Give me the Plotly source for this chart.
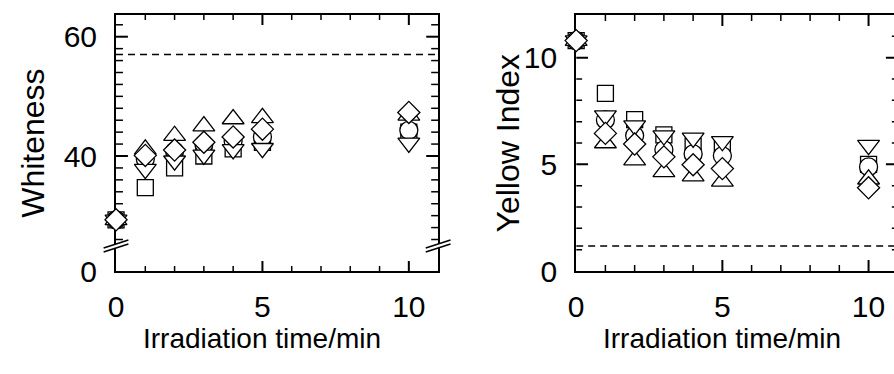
import plotly.graph_objects as go

# ---------------- data ----------------
time_min = [0, 1, 2, 3, 4, 5, 10]

white_square = [29.3, 34.7, 38.0, 40.0, 41.2, 42.3, 44.0]
white_circle = [29.3, 39.5, 40.8, 42.0, 42.5, 43.2, 44.3]
white_triup = [29.3, 41.1, 43.4, 45.0, 46.2, 46.4, 46.8]
white_tridown = [29.3, 37.8, 39.2, 40.2, 41.1, 41.3, 42.2]
white_diamond = [29.3, 40.1, 41.0, 42.3, 43.2, 44.5, 47.3]

yellow_square = [10.8, 8.33, 7.1, 6.38, 5.85, 5.8, 5.0]
yellow_circle = [10.8, 7.08, 6.35, 5.68, 5.49, 5.4, 4.88]
yellow_triup = [10.8, 6.0, 5.2, 4.65, 4.45, 4.2, 4.3]
yellow_tridown = [10.8, 7.28, 6.81, 6.35, 6.24, 6.08, 5.9]
yellow_diamond = [10.8, 6.45, 5.95, 5.35, 4.98, 4.8, 3.9]

white_reference = 57.0
yellow_reference = 1.17

x_ticks = [0, 5, 10]
x_tick_labels = ["0", "5", "10"]
x_major_marks = [5, 10]
x_minor_ticks = [1, 2, 3, 4, 6, 7, 8, 9]
white_tick_vals = [20.72, 40, 60]
white_tick_labels = ["0", "40", "60"]
white_major_marks = [40, 60]
white_minor_ticks = [26, 28, 30, 32, 34, 36, 38, 42, 44, 46, 48, 50, 52, 54, 56, 58, 62]
yellow_tick_vals = [0, 5, 10]
yellow_tick_labels = ["0", "5", "10"]
yellow_major_marks = [5, 10]
yellow_minor_ticks = [1, 2, 3, 4, 6, 7, 8, 9, 11]

# ---------------- layout constants ----------------
W, H = 894, 374
MT, MB = 15, 103
PLOT_H = H - MT - MB
FONT = "Liberation Sans"
X1_RANGE = [0, 11]
Y1_RANGE = [20.72, 63.64]
X2_RANGE = [0, 10.87]
Y2_RANGE = [0, 12]
X1_DOM = [109 / W, 434 / W]
X2_DOM = [573.3 / W, 1.0]
X2_FRAME = 11  # right frame of the yellow panel lies just outside the picture

series = [
    ("square", 16),
    ("circle", 18),
    ("triangle-up", 19),
    ("triangle-down", 19),
    ("diamond", 17),
]
white_vals = [white_square, white_circle, white_triup, white_tridown, white_diamond]
yellow_vals = [yellow_square, yellow_circle, yellow_triup, yellow_tridown, yellow_diamond]

fig = go.Figure()


# ---------------- inside tick marks drawn as line traces in axis units ----------------
def add_ticks(xa, ya, xr, yr, dom, x_right, x_sets, y_sets):
    dom_px = (dom[1] - dom[0]) * W
    ux = (xr[1] - xr[0]) / dom_px     # axis units per pixel, x
    uy = (yr[1] - yr[0]) / PLOT_H     # axis units per pixel, y
    for vals, length, width in x_sets:
        xs, ys = [], []
        for v in vals:
            xs += [v, v, None, v, v, None]
            ys += [yr[0], yr[0] + length * uy, None, yr[1], yr[1] - length * uy, None]
        fig.add_trace(go.Scatter(x=xs, y=ys, mode="lines", xaxis=xa, yaxis=ya, showlegend=False,
                                 hoverinfo="skip", line=dict(color="black", width=width)))
    for vals, length, width in y_sets:
        xs, ys = [], []
        for v in vals:
            xs += [xr[0], xr[0] + length * ux, None, x_right, x_right - length * ux, None]
            ys += [v, v, None, v, v, None]
        fig.add_trace(go.Scatter(x=xs, y=ys, mode="lines", xaxis=xa, yaxis=ya, showlegend=False,
                                 hoverinfo="skip", line=dict(color="black", width=width)))


add_ticks("x", "y", X1_RANGE, Y1_RANGE, X1_DOM, X1_RANGE[1],
          [(x_major_marks, 10, 2), (x_minor_ticks, 5, 1.5)],
          [(white_major_marks, 12, 2), (white_minor_ticks, 7, 1.5)])
add_ticks("x2", "y2", X2_RANGE, Y2_RANGE, X2_DOM, X2_FRAME,
          [(x_major_marks, 11, 2), (x_minor_ticks, 6, 1.5)],
          [(yellow_major_marks, 12, 2), (yellow_minor_ticks, 6, 1.5)])

# dashed reference lines
fig.add_trace(go.Scatter(x=X1_RANGE, y=[white_reference] * 2, mode="lines", xaxis="x", yaxis="y",
                         showlegend=False, line=dict(color="black", width=1.5, dash="7px,5px")))
fig.add_trace(go.Scatter(x=X2_RANGE, y=[yellow_reference] * 2, mode="lines", xaxis="x2", yaxis="y2",
                         showlegend=False, line=dict(color="black", width=1.5, dash="7px,5px")))

# data markers
for (sym, size), wv in zip(series, white_vals):
    fig.add_trace(go.Scatter(
        x=time_min, y=wv, mode="markers", xaxis="x", yaxis="y", cliponaxis=False,
        showlegend=False, name=sym,
        marker=dict(symbol=sym, size=size, color="white", line=dict(color="black", width=1.3)),
    ))
for (sym, size), yv in zip(series, yellow_vals):
    fig.add_trace(go.Scatter(
        x=time_min, y=yv, mode="markers", xaxis="x2", yaxis="y2", cliponaxis=False,
        showlegend=False, name=sym,
        marker=dict(symbol=sym, size=size, color="white", line=dict(color="black", width=1.3)),
    ))

tickfont = dict(family=FONT, size=30, color="black")


def axis(dom, rng, anchor, vals, text, standoff, mirror=True):
    return dict(domain=dom, range=rng, anchor=anchor, showline=True, linewidth=2, linecolor="black",
                mirror=mirror, ticks="", tickmode="array", tickvals=vals, ticktext=text,
                tickfont=tickfont, showgrid=False, zeroline=False, layer="below traces",
                ticklabelstandoff=standoff)


fig.update_layout(
    width=W, height=H, margin=dict(l=0, r=0, t=MT, b=MB),
    paper_bgcolor="white", plot_bgcolor="rgba(0,0,0,0)",
    xaxis=axis(X1_DOM, X1_RANGE, "y", x_ticks, x_tick_labels, 8),
    yaxis=axis([0, 1], Y1_RANGE, "x", white_tick_vals, white_tick_labels, 11),
    xaxis2=axis(X2_DOM, X2_RANGE, "y2", x_ticks, x_tick_labels, 8),
    yaxis2=axis([0, 1], Y2_RANGE, "x2", yellow_tick_vals, yellow_tick_labels, 11, mirror=False),
)


# ---------------- axis breaks on the whiteness panel ----------------
def fx(v, rng, dom):
    return dom[0] + (v - rng[0]) / (rng[1] - rng[0]) * (dom[1] - dom[0])


def fy(v, rng):
    return (v - rng[0]) / (rng[1] - rng[0])


PW = 1.0 / W
PH = 1.0 / PLOT_H


def axis_break(xv, yv):
    cx = fx(xv, X1_RANGE, X1_DOM)
    cy = fy(yv, Y1_RANGE)
    hw, rise, gap = 12.5 * PW, 4 * PH, 2 * PH
    path = (f"M {cx - hw},{cy - rise - gap} L {cx + hw},{cy + rise - gap} "
            f"L {cx + hw},{cy + rise + gap} L {cx - hw},{cy - rise + gap} Z")
    fig.add_shape(type="path", path=path, xref="paper", yref="paper", fillcolor="white",
                  line=dict(width=0), layer="above")
    for s in (-1, 1):
        fig.add_shape(type="line", xref="paper", yref="paper",
                      x0=cx - hw, y0=cy - rise + s * gap, x1=cx + hw, y1=cy + rise + s * gap,
                      line=dict(color="black", width=1.5), layer="above")


axis_break(0, 24.9)
axis_break(11, 24.9)

# ---------------- titles ----------------
ytitle_font = dict(family=FONT, size=32, color="black")
xtitle_font = dict(family=FONT, size=28, color="black")
fig.add_annotation(text="Whiteness", textangle=-90, xref="paper", yref="paper",
                   x=25 / W, y=0.5, showarrow=False, font=ytitle_font, xanchor="center", yanchor="middle")
fig.add_annotation(text="Yellow Index", textangle=-90, xref="paper", yref="paper",
                   x=505 / W, y=0.5, showarrow=False, font=ytitle_font, xanchor="center", yanchor="middle")
fig.add_annotation(text="Irradiation time/min", xref="x", yref="paper", x=5, y=-67 / PLOT_H,
                   showarrow=False, font=xtitle_font, xanchor="center", yanchor="middle")
fig.add_annotation(text="Irradiation time/min", xref="x2", yref="paper", x=5, y=-67 / PLOT_H,
                   showarrow=False, font=xtitle_font, xanchor="center", yanchor="middle")

fig.write_html("out.html")
